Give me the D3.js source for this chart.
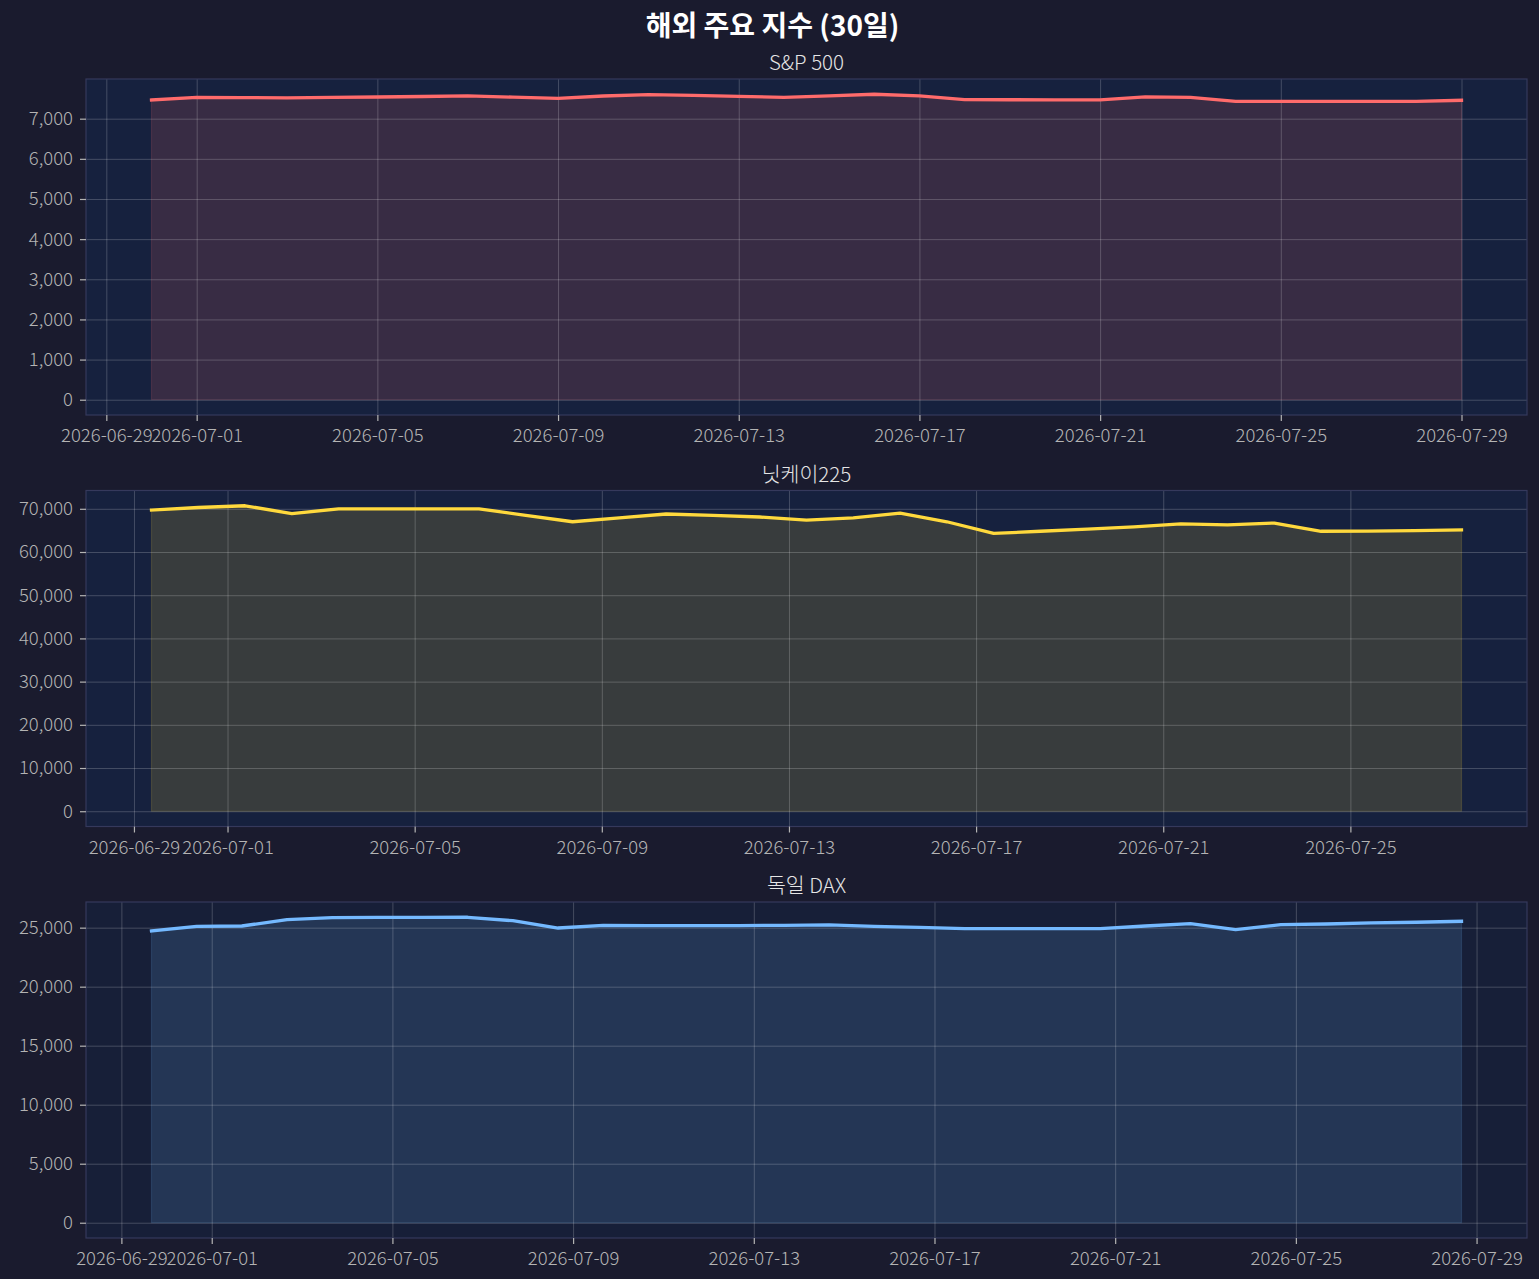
<!DOCTYPE html>
<html>
<head>
<meta charset="utf-8">
<script src="https://cdn.jsdelivr.net/npm/d3@7"></script>
<style>
  html, body { margin: 0; padding: 0; background: #1a1b2e; }
  svg { display: block; }
</style>
</head>
<body>
<script>
// chart data
var chartTitle = "해외 주요 지수 (30일)";
var panelTitles = ["S&P 500", "닛케이225", "독일 DAX"];
var lineColors = ["#ff6b6b", "#ffd93d", "#74b9ff"];

// first timestamp of every series (one point per day after that)
var spStart = "2026-06-30T00:00";
var nkStart = "2026-06-29T09:00";
var daxStart = "2026-06-29T16:00";

var spValues = [7467, 7533, 7525, 7520, 7530, 7540, 7553, 7567, 7537, 7508,
                7565, 7600, 7580, 7558, 7533, 7570, 7608, 7567, 7475, 7472,
                7470, 7467, 7542, 7533, 7433, 7433, 7433, 7433, 7433, 7458];
var nkValues = [69700, 70300, 70700, 68900, 70000, 70000, 70000, 70000, 68500, 67000,
                67900, 68800, 68500, 68100, 67400, 67900, 69000, 67000, 64300, 64800,
                65300, 65800, 66500, 66300, 66700, 64800, 64850, 64950, 65100];
var daxValues = [24720, 25110, 25140, 25680, 25850, 25870, 25870, 25880, 25590, 24970,
                 25200, 25170, 25170, 25180, 25200, 25240, 25110, 25020, 24920, 24920,
                 24920, 24920, 25140, 25340, 24830, 25250, 25310, 25400, 25460, 25540];

var spTicks = [0, 1000, 2000, 3000, 4000, 5000, 6000, 7000];
var nkTicks = [0, 10000, 20000, 30000, 40000, 50000, 60000, 70000];
var daxTicks = [0, 5000, 10000, 15000, 20000, 25000];
var dateTicks = ["2026-06-29", "2026-07-01", "2026-07-05", "2026-07-09", "2026-07-13",
                 "2026-07-17", "2026-07-21", "2026-07-25", "2026-07-29"];

// layout
var size = { width: 1539, height: 1279 };
var box = { left: 86, right: 1527, tops: [79, 490.5, 902], height: 336 };
var panelBg = ["#16213e", "#16213e", "#171f38"];
var font = "'Noto Sans CJK KR', 'Noto Sans', sans-serif";
var tickColor = "#b4b4b4";

var parseTime = d3.utcParse("%Y-%m-%dT%H:%M");
var parseDay = d3.utcParse("%Y-%m-%d");
var formatDay = d3.utcFormat("%Y-%m-%d");

var svg = d3.select("body")
            .append("svg")
            .attr("width", size.width)
            .attr("height", size.height)
            .style("font-family", font);

svg.append("rect")
   .attr("width", size.width)
   .attr("height", size.height)
   .attr("fill", "#1a1b2e");

// main title
svg.append("text")
   .attr("x", size.width / 2 + 3)
   .attr("y", 36)
   .attr("text-anchor", "middle")
   .attr("fill", "#ffffff")
   .attr("font-size", "28px")
   .attr("font-weight", "bold")
   .text(chartTitle);

var series = [
  { start: spStart, values: spValues, ticks: spTicks },
  { start: nkStart, values: nkValues, ticks: nkTicks },
  { start: daxStart, values: daxValues, ticks: daxTicks }
];

series.forEach(function(s, i) {
  drawPanel(s, i);
});


function drawPanel(s, i) {
  /*
  draws one subplot: background, fill, grid,
  line, axes and title
  */
  var top = box.tops[i];
  var bottom = top + box.height;
  var color = lineColors[i];

  // build the points
  var first = parseTime(s.start);
  var points = s.values.map(function(v, k) {
    return { date: d3.utcDay.offset(first, k), value: v };
  });

  // scales with 5% padding like matplotlib
  var xMin = points[0].date.getTime();
  var xMax = points[points.length - 1].date.getTime();
  var xPad = (xMax - xMin) * 0.05;
  var x = d3.scaleUtc()
            .domain([new Date(xMin - xPad), new Date(xMax + xPad)])
            .range([box.left, box.right]);

  var yMax = d3.max(s.values);
  var y = d3.scaleLinear()
            .domain([-yMax * 0.05, yMax * 1.05])
            .range([bottom, top]);

  var g = svg.append("g");

  // axes background
  g.append("rect")
   .attr("x", box.left)
   .attr("y", top)
   .attr("width", box.right - box.left)
   .attr("height", box.height)
   .attr("fill", panelBg[i]);

  // area under the line
  var area = d3.area()
               .x(function(d) { return x(d.date); })
               .y0(y(0))
               .y1(function(d) { return y(d.value); });

  g.append("path")
   .datum(points)
   .attr("d", area)
   .attr("fill", color)
   .attr("fill-opacity", 0.15)
   .attr("stroke", color)
   .attr("stroke-opacity", 0.15)
   .attr("stroke-width", 1.2);

  // grid lines
  var tickDates = dateTicks.map(parseDay).filter(function(d) {
    return d >= x.domain()[0] && d <= x.domain()[1];
  });

  g.append("g")
   .attr("class", "grid")
   .attr("transform", "translate(" + [0, bottom] + ")")
   .call(d3.axisBottom(x).tickValues(tickDates)
           .tickSize(-box.height).tickFormat(""))
   .call(function(sel) { sel.select(".domain").remove(); })
   .selectAll("line")
   .attr("stroke", "#ffffff")
   .attr("stroke-opacity", 0.2)
   .attr("stroke-width", 1);

  g.append("g")
   .attr("class", "grid")
   .attr("transform", "translate(" + [box.left, 0] + ")")
   .call(d3.axisLeft(y).tickValues(s.ticks)
           .tickSize(-(box.right - box.left)).tickFormat(""))
   .call(function(sel) { sel.select(".domain").remove(); })
   .selectAll("line")
   .attr("stroke", "#ffffff")
   .attr("stroke-opacity", 0.2)
   .attr("stroke-width", 1);

  // the line itself
  var line = d3.line()
               .x(function(d) { return x(d.date); })
               .y(function(d) { return y(d.value); });

  g.append("path")
   .datum(points)
   .attr("d", line)
   .attr("fill", "none")
   .attr("stroke", color)
   .attr("stroke-width", 3.3)
   .attr("stroke-linejoin", "round")
   .attr("stroke-linecap", "square");

  // spines
  g.append("rect")
   .attr("x", box.left)
   .attr("y", top)
   .attr("width", box.right - box.left)
   .attr("height", box.height)
   .attr("fill", "none")
   .attr("stroke", "#35395c")
   .attr("stroke-width", 1.2);

  // x axis
  var xAxis = g.append("g")
               .attr("transform", "translate(" + [0, bottom] + ")")
               .call(d3.axisBottom(x).tickValues(tickDates)
                       .tickFormat(formatDay).tickSize(6).tickPadding(8));
  styleAxis(xAxis);

  // y axis
  var yAxis = g.append("g")
               .attr("transform", "translate(" + [box.left, 0] + ")")
               .call(d3.axisLeft(y).tickValues(s.ticks)
                       .tickFormat(d3.format(",")).tickSize(6).tickPadding(7));
  styleAxis(yAxis);

  // subplot title
  g.append("text")
   .attr("x", (box.left + box.right) / 2)
   .attr("y", top - 9)
   .attr("text-anchor", "middle")
   .attr("fill", "#e6e6e6")
   .attr("font-size", "20.5px")
   .attr("font-weight", 300)
   .text(panelTitles[i]);
}


function styleAxis(axis) {
  /*
  dark theme look for an axis
  */
  axis.select(".domain").remove();
  axis.selectAll("line")
      .attr("stroke", tickColor)
      .attr("stroke-width", 1.2);
  axis.selectAll("text")
      .attr("fill", tickColor)
      .attr("font-size", "18.5px")
      .attr("font-weight", 300)
      .attr("font-family", font);
}
</script>
</body>
</html>
